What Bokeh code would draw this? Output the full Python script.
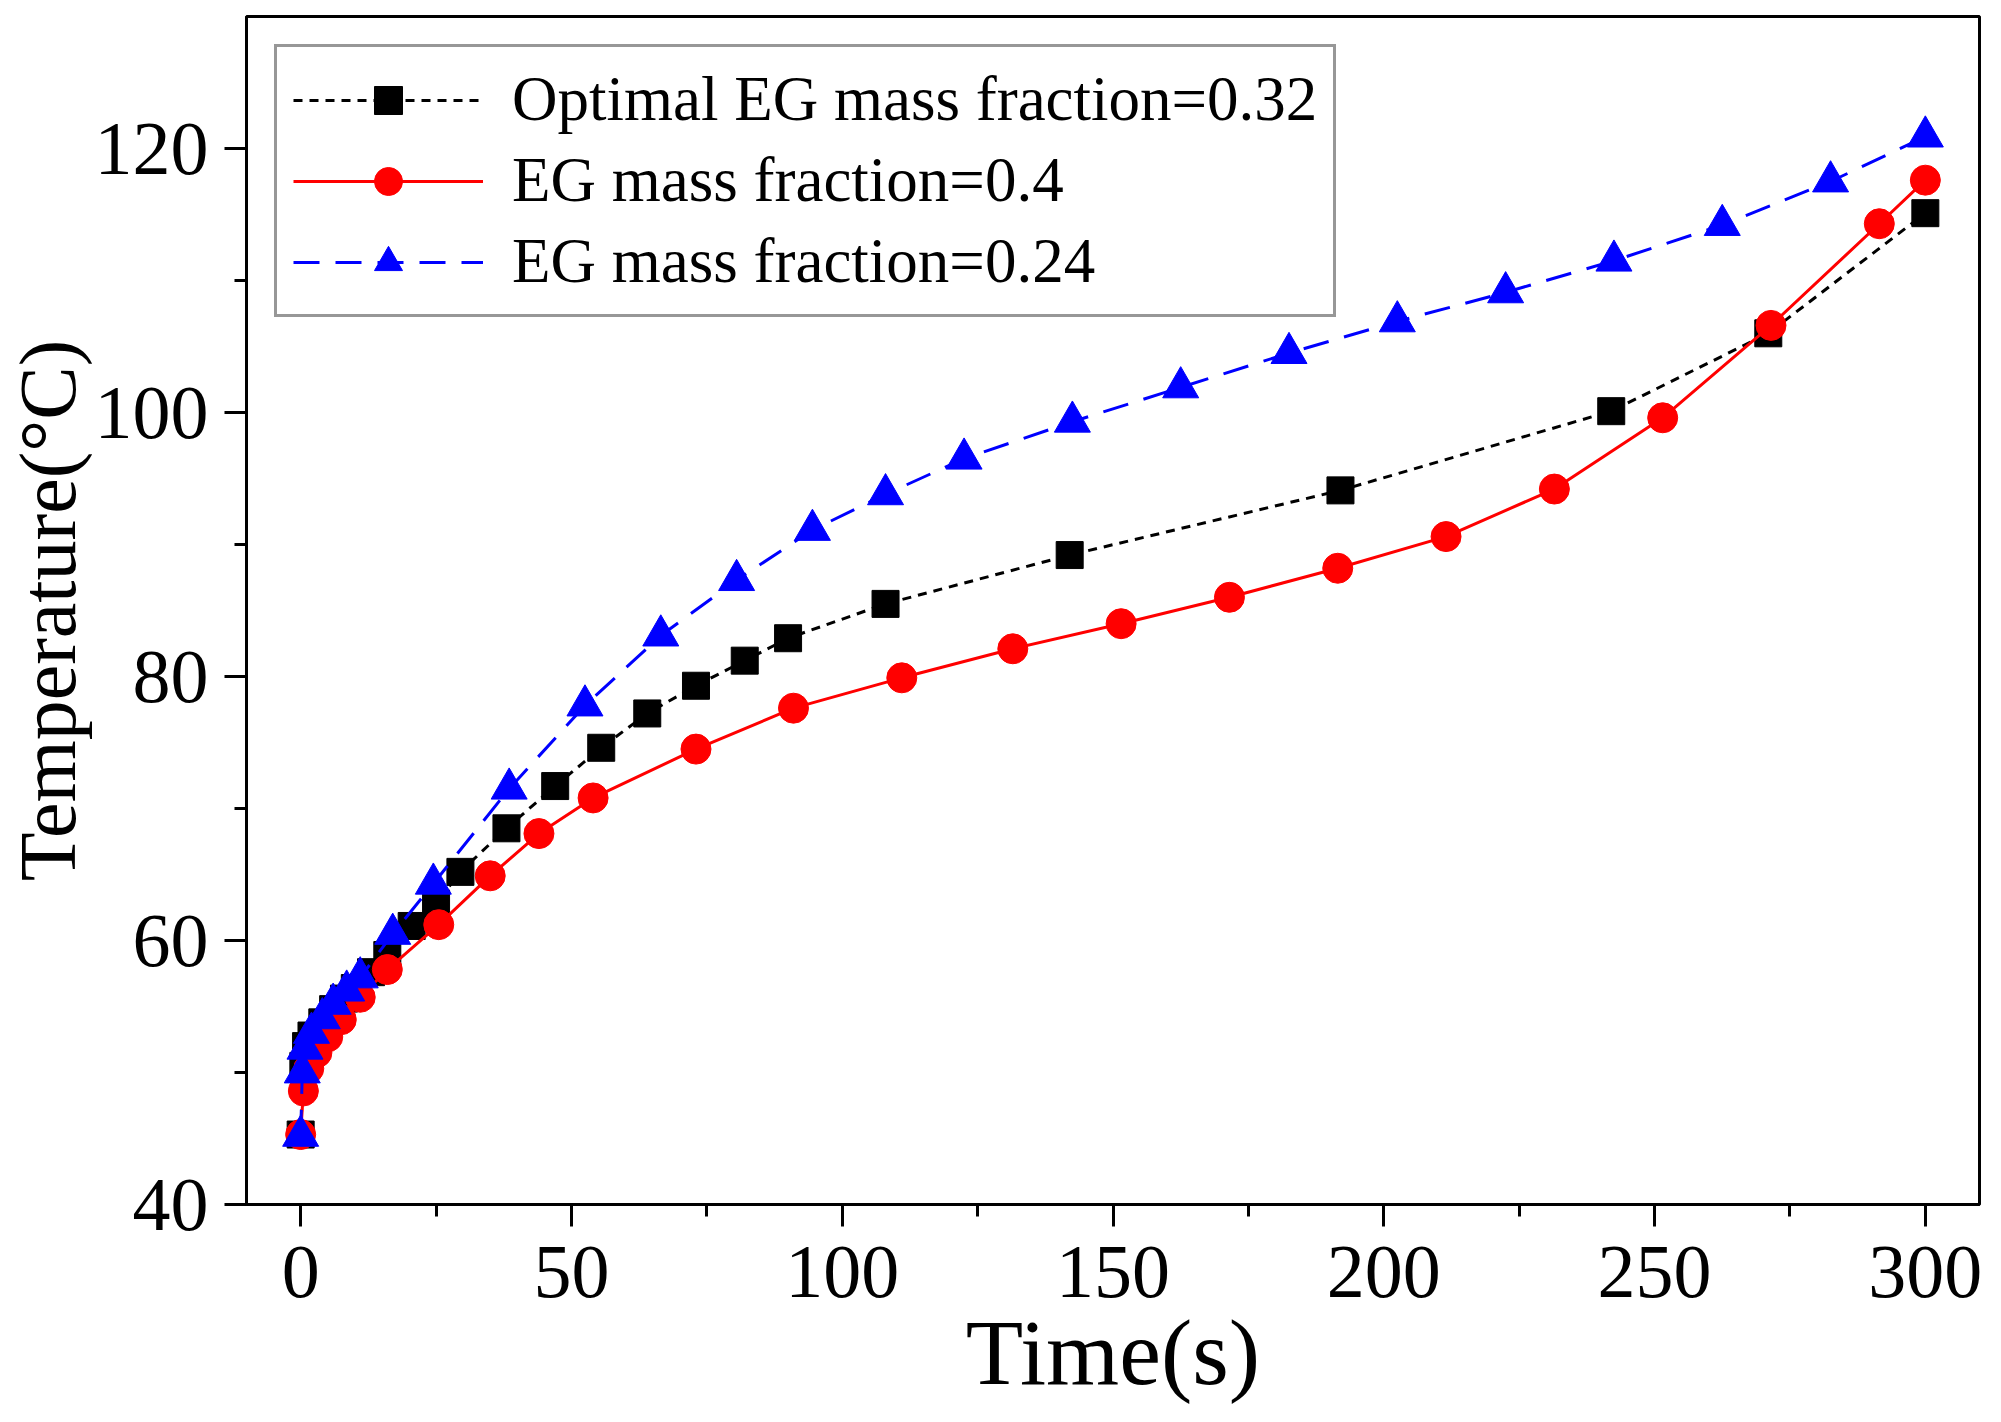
from bokeh.plotting import figure
from bokeh.models import Legend, LegendItem, FixedTicker
from bokeh.embed import file_html
from bokeh.resources import INLINE

# ---- data ----
time_opt = [0, 0.5, 1, 2, 4, 6, 8, 10, 13, 16, 20.5, 25, 29.5, 38, 47, 55.5, 64, 73, 82, 90, 108, 142, 192, 242, 271, 300]
temp_opt = [45.3, 50.5, 52.0, 52.8, 53.8, 54.8, 55.6, 56.4, 57.6, 58.9, 61.1, 62.8, 65.2, 68.5, 71.7, 74.6, 77.2, 79.3, 81.2, 82.9, 85.5, 89.2, 94.1, 100.1, 106.0, 115.1]

time_04 = [0, 0.5, 1.5, 3, 5, 7.5, 11, 16, 25.5, 35, 44, 54, 73, 91, 111, 131.5, 151.5, 171.5, 191.5, 211.5, 231.5, 251.5, 271.5, 291.5, 300]
temp_04 = [45.3, 48.6, 50.3, 51.5, 52.7, 54.0, 55.7, 57.8, 61.2, 64.9, 68.1, 70.8, 74.5, 77.6, 79.9, 82.1, 84.0, 86.0, 88.2, 90.6, 94.2, 99.6, 106.6, 114.3, 117.6]

time_024 = [0, 0.3, 0.8, 2, 4, 6, 8.5, 11, 17, 24.5, 38.5, 52.5, 66.5, 80.5, 94.5, 108, 122.5, 142.5, 162.5, 182.5, 202.5, 222.5, 242.5, 262.5, 282.5, 300]
temp_024 = [45.2, 50.0, 51.8, 53.0, 54.1, 55.2, 56.2, 57.2, 60.5, 64.3, 71.5, 77.8, 83.1, 87.3, 91.1, 93.8, 96.5, 99.3, 101.9, 104.5, 106.9, 109.1, 111.5, 114.2, 117.5, 120.9]

labels = ["Optimal EG mass fraction=0.32", "EG mass fraction=0.4", "EG mass fraction=0.24"]

x_major = [0, 50, 100, 150, 200, 250, 300]
x_minor = [25, 75, 125, 175, 225, 275]
y_major = [40, 60, 80, 100, 120]
y_minor = [50, 70, 90, 110]

FONT = "Liberation Serif"

p = figure(frame_width=1733, frame_height=1188,
           x_range=(-10, 310), y_range=(40, 130),
           output_backend="svg", toolbar_location=None,
           min_border_left=239, min_border_right=13,
           min_border_top=16, min_border_bottom=202)
p.background_fill_color = "white"
p.border_fill_color = "white"
p.grid.visible = False
p.outline_line_color = "black"
p.outline_line_width = 3

# series
l1 = p.line(time_opt, temp_opt, line_color="black", line_width=3, line_dash="9 7")
s1 = p.scatter(time_opt, temp_opt, marker="square", size=27, fill_color="black", line_color="black")
l2 = p.line(time_04, temp_04, line_color="#FF0000", line_width=3)
s2 = p.scatter(time_04, temp_04, marker="circle", size=30, fill_color="#FF0000", line_color="#FF0000")
l3 = p.line(time_024, temp_024, line_color="#0000FF", line_width=3, line_dash="26 16")
s3 = p.scatter(time_024, temp_024, marker="triangle", size=36, fill_color="#0000FF", line_color="#0000FF")

# axes
p.xaxis.ticker = FixedTicker(ticks=x_major, minor_ticks=x_minor)
p.yaxis.ticker = FixedTicker(ticks=y_major, minor_ticks=y_minor)
for ax in (p.xaxis[0], p.yaxis[0]):
    ax.axis_line_width = 3
    ax.axis_line_color = "black"
    ax.major_tick_line_width = 3
    ax.minor_tick_line_width = 3
    ax.major_tick_in = 0
    ax.minor_tick_in = 0
    ax.major_tick_out = 22
    ax.minor_tick_out = 12
    ax.major_label_text_font = FONT
    ax.major_label_text_font_size = "76px"
    ax.major_label_text_color = "black"
    ax.axis_label_text_font = FONT
    ax.axis_label_text_font_style = "normal"
    ax.axis_label_text_color = "black"

p.xaxis.axis_label = "Time(s)"
p.xaxis.axis_label_text_font_size = "94px"
p.xaxis.major_label_standoff = 20
p.xaxis.axis_label_standoff = 0

p.yaxis.axis_label = "Temperature(°C)"
p.yaxis.axis_label_text_font_size = "80px"
p.yaxis.major_label_standoff = 16
p.yaxis.axis_label_standoff = 0

legend = Legend(items=[
    LegendItem(label=labels[0], renderers=[l1, s1]),
    LegendItem(label=labels[1], renderers=[l2, s2]),
    LegendItem(label=labels[2], renderers=[l3, s3]),
], location="top_left")
legend.margin = 28
legend.padding = 16
legend.spacing = 8
legend.glyph_width = 190
legend.glyph_height = 70
legend.label_standoff = 29
legend.label_text_font = FONT
legend.label_text_font_size = "63px"
legend.label_text_color = "black"
legend.border_line_color = "#303030"
legend.border_line_width = 3
legend.background_fill_color = "white"
legend.background_fill_alpha = 1.0
p.add_layout(legend)

open("out.html", "w").write(file_html(p, INLINE))
